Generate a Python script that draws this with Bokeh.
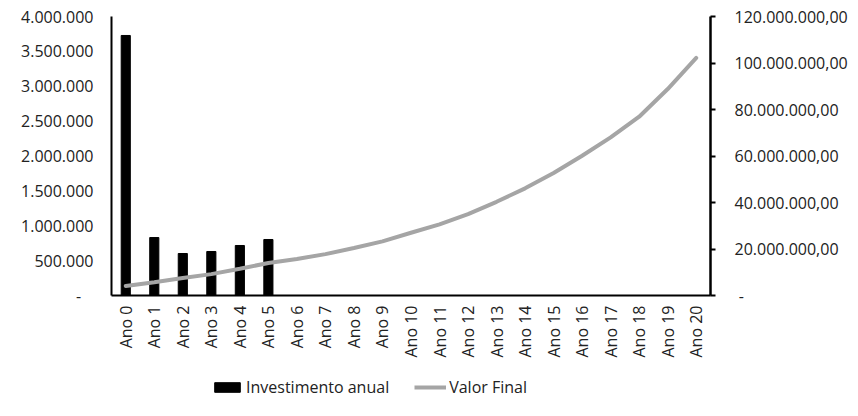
from bokeh.plotting import figure
from bokeh.layouts import column
from bokeh.models import Range1d, LinearAxis, FixedTicker, Legend, LegendItem, ColumnDataSource
from bokeh.embed import file_html
from bokeh.resources import INLINE

anos = ["Ano 0", "Ano 1", "Ano 2", "Ano 3", "Ano 4", "Ano 5", "Ano 6", "Ano 7",
        "Ano 8", "Ano 9", "Ano 10", "Ano 11", "Ano 12", "Ano 13", "Ano 14",
        "Ano 15", "Ano 16", "Ano 17", "Ano 18", "Ano 19", "Ano 20"]
anos_investimento = ["Ano 0", "Ano 1", "Ano 2", "Ano 3", "Ano 4", "Ano 5"]
investimento_anual = [3728000, 831000, 602000, 631000, 717000, 803000]
valor_final = [4100000, 5700000, 7500000, 9200000, 11500000, 14000000,
               15700000, 17800000, 20400000, 23300000, 27000000, 30600000,
               35000000, 40300000, 46100000, 52700000, 60100000, 68000000,
               76900000, 88800000, 102200000]

left_ticks = [0, 500000, 1000000, 1500000, 2000000, 2500000, 3000000, 3500000, 4000000]
left_labels = ["-\u00a0\u00a0\u00a0", "500.000", "1.000.000", "1.500.000", "2.000.000",
               "2.500.000", "3.000.000", "3.500.000", "4.000.000"]
right_ticks = [0, 20000000, 40000000, 60000000, 80000000, 100000000, 120000000]
right_labels = ["\u00a0-", "20.000.000,00", "40.000.000,00", "60.000.000,00",
                "80.000.000,00", "100.000.000,00", "120.000.000,00"]
legend_labels = ["Investimento anual", "Valor Final"]

FONT = "Open Sans"
TXT = "#222222"
BAR_COLOR = "black"
LINE_COLOR = "#A5A5A5"

p = figure(x_range=anos, y_range=Range1d(0, 4000000), width=856, height=370,
           output_backend="svg", toolbar_location=None,
           min_border_left=111, min_border_right=146, min_border_top=16,
           min_border_bottom=75)
p.outline_line_color = None
p.xgrid.visible = False
p.ygrid.visible = False
p.extra_y_ranges = {"vf": Range1d(0, 120000000)}

bars = p.vbar(x=anos_investimento, top=investimento_anual, width=0.32,
              fill_color=BAR_COLOR, line_color=BAR_COLOR)
line = p.line(x=anos, y=valor_final, y_range_name="vf", line_color=LINE_COLOR,
              line_width=4, line_cap="round")

# left axis
ya = p.yaxis[0]
ya.ticker = FixedTicker(ticks=left_ticks)
ya.major_label_overrides = dict(zip(left_ticks, left_labels))
ya.major_tick_out = 0
ya.major_tick_in = 0
ya.minor_tick_out = 0
ya.minor_tick_in = 0
ya.axis_line_width = 2
ya.axis_line_color = "black"
ya.major_label_standoff = 18
ya.major_label_text_font = FONT
ya.major_label_text_font_size = "16px"
ya.major_label_text_color = TXT

# right axis
ra = LinearAxis(y_range_name="vf", ticker=FixedTicker(ticks=right_ticks),
                major_label_overrides=dict(zip(right_ticks, right_labels)))
ra.major_tick_out = 5
ra.major_tick_in = 0
ra.minor_tick_out = 0
ra.minor_tick_in = 0
ra.major_tick_line_width = 2
ra.axis_line_width = 2.5
ra.axis_line_color = "black"
ra.major_label_standoff = 19
ra.major_label_text_font = FONT
ra.major_label_text_font_size = "16px"
ra.major_label_text_color = TXT
p.add_layout(ra, "right")

# bottom axis
xa = p.xaxis[0]
xa.major_tick_out = 0
xa.major_tick_in = 0
xa.axis_line_width = 2
xa.axis_line_color = "black"
xa.major_label_orientation = 1.5707963267948966
xa.major_label_standoff = 10
xa.major_label_text_font = FONT
xa.major_label_text_font_size = "16px"
xa.major_label_text_color = TXT

# legend strip below the chart (its frame is aligned with the chart's frame)
lf = figure(width=856, height=32, x_range=Range1d(0, 1), y_range=Range1d(0, 1),
            x_axis_type=None, y_axis_type=None, output_backend="svg",
            toolbar_location=None, min_border=0)
lf.outline_line_color = None
lf.xgrid.visible = False
lf.ygrid.visible = False
# legend-only renderers: one off-range row each, clipped away by the frame
bar_src = ColumnDataSource(data=dict(x=[-10], top=[-10], bottom=[-11]))
line_src = ColumnDataSource(data=dict(x=[-10, -9], y=[-10, -9]))
lb = lf.vbar(x="x", top="top", bottom="bottom", width=0.1, source=bar_src,
             fill_color=BAR_COLOR, line_color=BAR_COLOR)
ll = lf.line(x="x", y="y", source=line_src, line_color=LINE_COLOR, line_width=4)

legend = Legend(items=[LegendItem(label=legend_labels[0], renderers=[lb]),
                       LegendItem(label=legend_labels[1], renderers=[ll])],
                orientation="horizontal", location=(100, 4),
                background_fill_alpha=0, border_line_color=None,
                padding=0, margin=0, spacing=25, glyph_width=32, glyph_height=12,
                label_standoff=3, label_text_font=FONT,
                label_text_font_size="16px", label_text_color=TXT)
lf.add_layout(legend, "center")

layout = column(p, lf, spacing=0)
open("out.html", "w").write(file_html(layout, INLINE))
